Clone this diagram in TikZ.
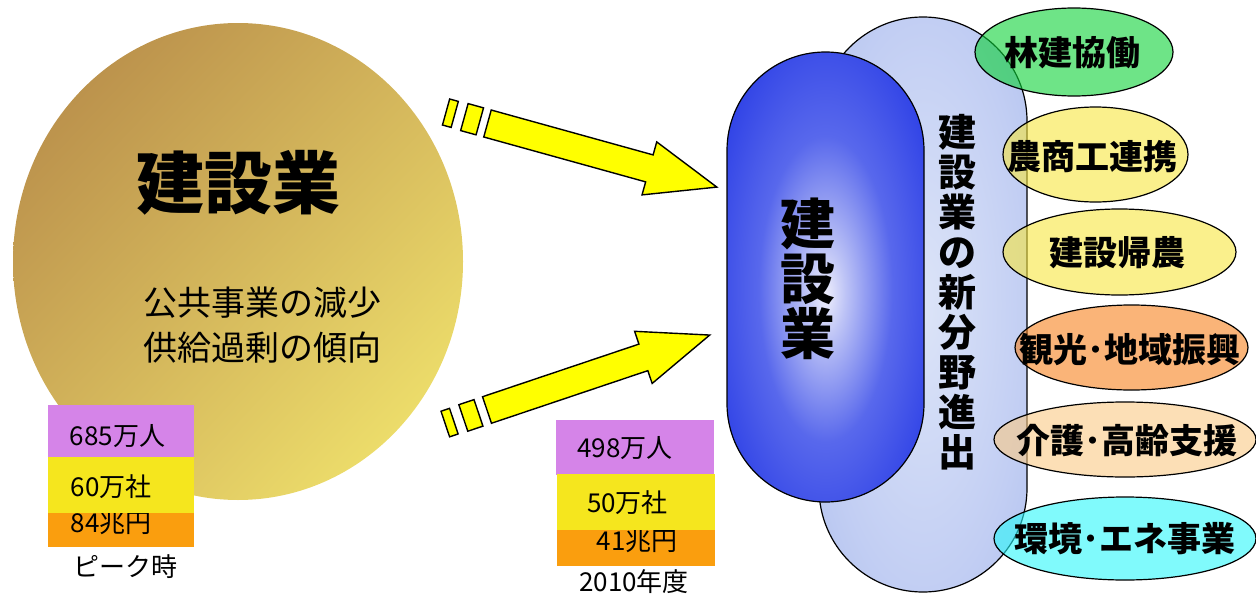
\documentclass[tikz,border=0pt]{standalone}
\usepackage{fontspec}
\setmainfont{Noto Sans CJK JP}
\usetikzlibrary{shapes.geometric,shadings}

\definecolor{goldA}{RGB}{178,132,70}
\definecolor{goldM}{RGB}{212,182,92}
\definecolor{goldB}{RGB}{246,236,112}
\definecolor{boxPurple}{RGB}{213,132,232}
\definecolor{boxYellow}{RGB}{245,230,30}
\definecolor{boxOrange}{RGB}{250,158,14}
\definecolor{arrowYellow}{RGB}{255,255,0}
\definecolor{bcA}{RGB}{238,238,252}
\definecolor{bcB}{RGB}{190,196,246}
\definecolor{bcC}{RGB}{88,104,236}
\definecolor{bcD}{RGB}{32,52,228}
\definecolor{lbA}{RGB}{220,228,248}
\definecolor{lbB}{RGB}{194,206,243}
\definecolor{lbC}{RGB}{168,186,236}
\definecolor{elGreen}{RGB}{13,210,55}
\definecolor{elYellow}{RGB}{247,230,63}
\definecolor{elOrange}{RGB}{247,130,30}
\definecolor{elPeach}{RGB}{250,202,133}
\definecolor{elCyan}{RGB}{43,247,250}

\pgfdeclareradialshading{bluecap}{\pgfpoint{0bp}{-2bp}}{color(0bp)=(bcA); color(5bp)=(bcB); color(17bp)=(bcC); color(36bp)=(bcD); color(50bp)=(bcD)}
\pgfdeclareradialshading{lightcap}{\pgfpoint{0bp}{0bp}}{color(0bp)=(lbA); color(25bp)=(lbB); color(44bp)=(lbC); color(50bp)=(lbC)}

\tikzset{
  databox/.style={rectangle, draw=none, inner sep=0pt},
  numtext/.style={font=\fontsize{26}{28}\selectfont, inner sep=0pt},
  arrowshape/.style={draw=black, line width=1.4pt, fill=arrowYellow, line join=miter},
  bubble/.style={ellipse, draw=black, line width=1.2pt, fill opacity=0.6, inner sep=0pt},
  bubbletext/.style={inner sep=0pt, font=\fontsize{34}{36}\selectfont\bfseries},
}

\begin{document}
\begin{tikzpicture}[x=1pt,y=-1pt]
\useasboundingbox (0,0) rectangle (1256,597);

% big circle
\node[ellipse, inner sep=0pt, minimum width=450pt, minimum height=477pt,
      upper left=goldA, upper right=goldM, lower left=goldM, lower right=goldB] (circ) at (238,261.5) {};
\node[font=\fontsize{68}{70}\selectfont\bfseries, inner sep=0pt] (circtitle) at (238,183) {建設業};
\node[font=\fontsize{34}{45}\selectfont, align=center, inner sep=0pt] (circsub) at (262,325) {公共事業の減少\\供給過剰の傾向};

% upper arrow
\begin{scope}[shift={(487.5,123.5)}, rotate=-15.5]
  \draw[arrowshape] (0,-14) -- (168,-14) -- (168,-27.5) -- (238,0) -- (168,27.5) -- (168,14) -- (0,14) -- cycle;
  \draw[arrowshape] (-24,-14) rectangle (-8,14);
  \draw[arrowshape] (-43,-13.5) rectangle (-34,13.5);
\end{scope}
% lower arrow
\begin{scope}[shift={(487,410)}, rotate=18.6]
  \draw[arrowshape] (0,-14) -- (165,-14) -- (165,-27.5) -- (235,0) -- (165,27.5) -- (165,14) -- (0,14) -- cycle;
  \draw[arrowshape] (-25,-14) rectangle (-9,14);
  \draw[arrowshape] (-44,-13.5) rectangle (-35,13.5);
\end{scope}

% left data boxes (peak)
\node[databox, fill=boxPurple, minimum width=146pt, minimum height=52pt] (pPeople) at (121,431) {};
\node[numtext] (tPeople) at (117.5,436) {685万人};
\node[databox, fill=boxOrange, minimum width=146pt, minimum height=34pt] (pYen) at (121,530) {};
\node[numtext] (tYen) at (111,523) {84兆円};
\node[databox, fill=boxYellow, minimum width=146pt, minimum height=56pt] (pComp) at (121,485) {};
\node[numtext] (tComp) at (111,487) {60万社};
\node[numtext] (tPeak) at (125,567) {ピーク時};

% middle data boxes (2010)
\node[databox, fill=boxPurple, minimum width=158pt, minimum height=55pt] (mPeople) at (635,447.5) {};
\node[numtext] (tmPeople) at (625,448) {498万人};
\node[databox, fill=boxOrange, minimum width=158pt, minimum height=36pt] (mYen) at (636,548) {};
\node[numtext] (tmYen) at (637,541) {41兆円};
\node[databox, fill=boxYellow, minimum width=158pt, minimum height=56pt] (mComp) at (636,502) {};
\node[numtext] (tmComp) at (627.5,503) {50万社};
\node[numtext] (tYear) at (634,582) {2010年度};

% light blue capsule
\node[rectangle, draw=black, line width=1.2pt, rounded corners=103.9pt, minimum width=208pt, minimum height=575pt, shading=lightcap] (newfield) at (923,304.5) {};
\node[font=\fontsize{38}{40}\selectfont\bfseries, align=center, inner sep=0pt] (newfieldtext) at (957,292)
  {建\\設\\業\\の\\新\\分\\野\\進\\出};

% blue capsule
\node[rectangle, draw=black, line width=1.2pt, rounded corners=98.4pt, minimum width=197pt, minimum height=450pt, shading=bluecap] (core) at (825.5,277) {};
\node[font=\fontsize{55}{55}\selectfont\bfseries, align=center, inner sep=0pt] (coretext) at (808,279)
  {建\\設\\業};

% right bubbles
\node[bubble, fill=elGreen, minimum width=198pt, minimum height=88pt] (b1) at (1074,52) {};
\node[bubbletext] (b1t) at (1072,53) {林建協働};
\node[bubble, fill=elYellow, minimum width=185pt, minimum height=95pt] (b2) at (1095.5,154.5) {};
\node[bubbletext] (b2t) at (1092,157) {農商工連携};
\node[bubble, fill=elYellow, minimum width=233pt, minimum height=86pt] (b3) at (1119.5,252) {};
\node[bubbletext] (b3t) at (1117,253) {建設帰農};
\node[bubble, fill=elOrange, minimum width=233pt, minimum height=85pt] (b4) at (1131.5,347.5) {};
\node[bubbletext] (b4t) at (1130,350) {観光･地域振興};
\node[bubble, fill=elPeach, minimum width=262pt, minimum height=75pt] (b5) at (1125,439.5) {};
\node[bubbletext] (b5t) at (1126.5,441) {介護･高齢支援};
\node[bubble, fill=elCyan, minimum width=262pt, minimum height=83pt] (b6) at (1125,538.5) {};
\node[bubbletext] (b6t) at (1125,539) {環境･エネ事業};
\end{tikzpicture}
\end{document}
